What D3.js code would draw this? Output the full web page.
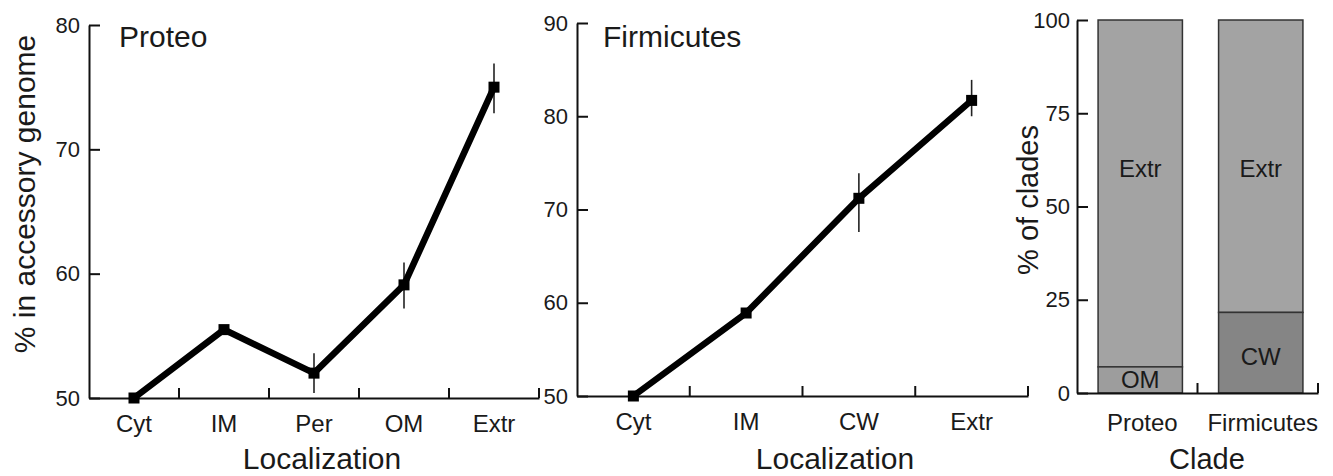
<!DOCTYPE html>
<html>
<head>
<meta charset="utf-8">
<script src="https://cdn.jsdelivr.net/npm/d3@7"></script>
<style>
  body { margin: 0; background: #fff; }
  svg text { font-family: "Liberation Sans", Arial, sans-serif; fill: #1a1a1a; }
  .axis path, .axis line { stroke: #111; stroke-width: 2px; }
</style>
</head>
<body>
<svg class="fig" width="1333" height="476"></svg>
<script>
// values
var proteoCats = ["Cyt", "IM", "Per", "OM", "Extr"]
var proteoMean = [50, 55.5, 52.0, 59.1, 75.0]
var proteoLow = [50, 55.2, 50.4, 57.2, 72.9]
var proteoHigh = [50, 55.8, 53.6, 60.9, 76.9]
var proteoTicks = [50, 60, 70, 80]

var firmCats = ["Cyt", "IM", "CW", "Extr"]
var firmMean = [50, 58.9, 71.2, 81.7]
var firmLow = [50, 58.5, 67.6, 80.0]
var firmHigh = [50, 59.3, 73.9, 83.9]
var firmTicks = [50, 60, 70, 80, 90]

var clades = ["Proteo", "Firmicutes"]
var innerNames = ["OM", "CW"]
var innerShare = [7, 21.6]
var extrShare = [93, 78.4]
var cladeTicks = [0, 25, 50, 75, 100]

var svg = d3.select(".fig")

function drawYAxis(yScale, ticks, x, pad) {
    svg.append("g")
      .attr("class", "y axis")
      .attr("transform", "translate(" + x + ",0)")
      .call(d3.axisLeft(yScale).tickValues(ticks).tickSizeInner(-11).tickSizeOuter(0).tickPadding(pad))
      .call(g => g.selectAll("text").attr("font-size", "22px"))
}

function drawXAxis(xScale, y, pad, size, shift) {
    var g = svg.append("g")
      .attr("class", "x axis")
      .attr("transform", "translate(0," + y + ")")
      .call(d3.axisBottom(xScale).tickSize(0).tickSizeOuter(0).tickPadding(pad))
    g.selectAll("text").attr("font-size", size).attr("dx", shift || 0)
    // ticks sit on the band edges, pointing up
    g.selectAll(".edge")
      .data(xScale.domain())
      .enter().append("line")
      .attr("class", "edge")
      .attr("x1", d => xScale(d) + xScale.step())
      .attr("x2", d => xScale(d) + xScale.step())
      .attr("y1", 0)
      .attr("y2", -10)
}

function drawLinePanel(cats, mean, low, high, ticks, xRange, yRange, title, titleX, labelX) {
    var xScale = d3.scaleBand().domain(cats).range(xRange).padding(0)
    var yScale = d3.scaleLinear().domain([ticks[0], ticks[ticks.length - 1]]).range(yRange)
    var cx = d => xScale(d) + xScale.bandwidth() / 2

    drawXAxis(xScale, yRange[0], 17, "24px")
    drawYAxis(yScale, ticks, xRange[0], 9)

    var pts = cats.map((c, i) => ({cat: c, mean: mean[i], low: low[i], high: high[i]}))

    svg.append("g").selectAll("line")
      .data(pts)
      .enter().append("line")
      .attr("x1", d => cx(d.cat))
      .attr("x2", d => cx(d.cat))
      .attr("y1", d => yScale(d.low))
      .attr("y2", d => yScale(d.high))
      .attr("stroke", "#222")
      .attr("stroke-width", 1.6)

    svg.append("path")
      .datum(pts)
      .attr("fill", "none")
      .attr("stroke", "#000")
      .attr("stroke-width", 6.5)
      .attr("stroke-linejoin", "miter")
      .attr("d", d3.line().x(d => cx(d.cat)).y(d => yScale(d.mean)))

    svg.append("g").selectAll("rect")
      .data(pts)
      .enter().append("rect")
      .attr("x", d => cx(d.cat) - 5.5)
      .attr("y", d => yScale(d.mean) - 5.5)
      .attr("width", 11)
      .attr("height", 11)
      .attr("fill", "#000")

    svg.append("text")
      .text(title)
      .attr("x", titleX)
      .attr("y", 47)
      .attr("font-size", "30px")

    svg.append("text")
      .text("Localization")
      .attr("x", labelX)
      .attr("y", 469)
      .attr("text-anchor", "middle")
      .attr("font-size", "30px")
}

function drawCladePanel() {
    var xScale = d3.scaleBand().domain(clades).range([1077, 1318]).padding(0)
    var yScale = d3.scaleLinear().domain([0, 100]).range([393, 20])
    var barW = xScale.step() * 0.7
    var bx = d => xScale(d) + xScale.step() / 2 + 3 - barW / 2

    var rows = clades.map((c, i) => ({clade: c, inner: innerShare[i], extr: extrShare[i], name: innerNames[i]}))
    var innerColor = d3.scaleOrdinal().domain(innerNames).range(["#9d9d9d", "#858585"])

    var bars = svg.append("g").selectAll("g")
      .data(rows)
      .enter().append("g")

    bars.append("rect")
      .attr("x", d => bx(d.clade))
      .attr("y", d => yScale(d.inner + d.extr))
      .attr("width", barW)
      .attr("height", d => yScale(d.inner) - yScale(d.inner + d.extr))
      .attr("fill", "#a3a3a3")
      .attr("stroke", "#333")
      .attr("stroke-width", 1.5)

    bars.append("rect")
      .attr("x", d => bx(d.clade))
      .attr("y", d => yScale(d.inner))
      .attr("width", barW)
      .attr("height", d => yScale(0) - yScale(d.inner))
      .attr("fill", d => innerColor(d.name))
      .attr("stroke", "#333")
      .attr("stroke-width", 1.5)

    bars.append("text")
      .text("Extr")
      .attr("x", d => bx(d.clade) + barW / 2)
      .attr("y", yScale(60) + 8)
      .attr("text-anchor", "middle")
      .attr("font-size", "24px")

    bars.append("text")
      .text(d => d.name)
      .attr("x", d => bx(d.clade) + barW / 2)
      .attr("y", d => yScale(d.inner / 2) + 8)
      .attr("dy", d => d.inner > 15 ? 4 : 0)
      .attr("text-anchor", "middle")
      .attr("font-size", "24px")

    drawXAxis(xScale, yScale(0), 21, "24px", 5)
    drawYAxis(yScale, cladeTicks, 1077, 7)

    svg.append("text")
      .text("% of clades")
      .attr("transform", "translate(1038,200) rotate(-90)")
      .attr("text-anchor", "middle")
      .attr("font-size", "29px")

    svg.append("text")
      .text("Clade")
      .attr("x", 1207)
      .attr("y", 469)
      .attr("text-anchor", "middle")
      .attr("font-size", "29px")
}

drawLinePanel(proteoCats, proteoMean, proteoLow, proteoHigh, proteoTicks, [89, 539], [398, 25], "Proteo", 119, 322)
drawLinePanel(firmCats, firmMean, firmLow, firmHigh, firmTicks, [577, 1028], [396, 23], "Firmicutes", 603, 835)
drawCladePanel()

svg.append("text")
  .text("% in accessory genome")
  .attr("transform", "translate(35,194) rotate(-90)")
  .attr("text-anchor", "middle")
  .attr("font-size", "30px")
</script>
</body>
</html>
